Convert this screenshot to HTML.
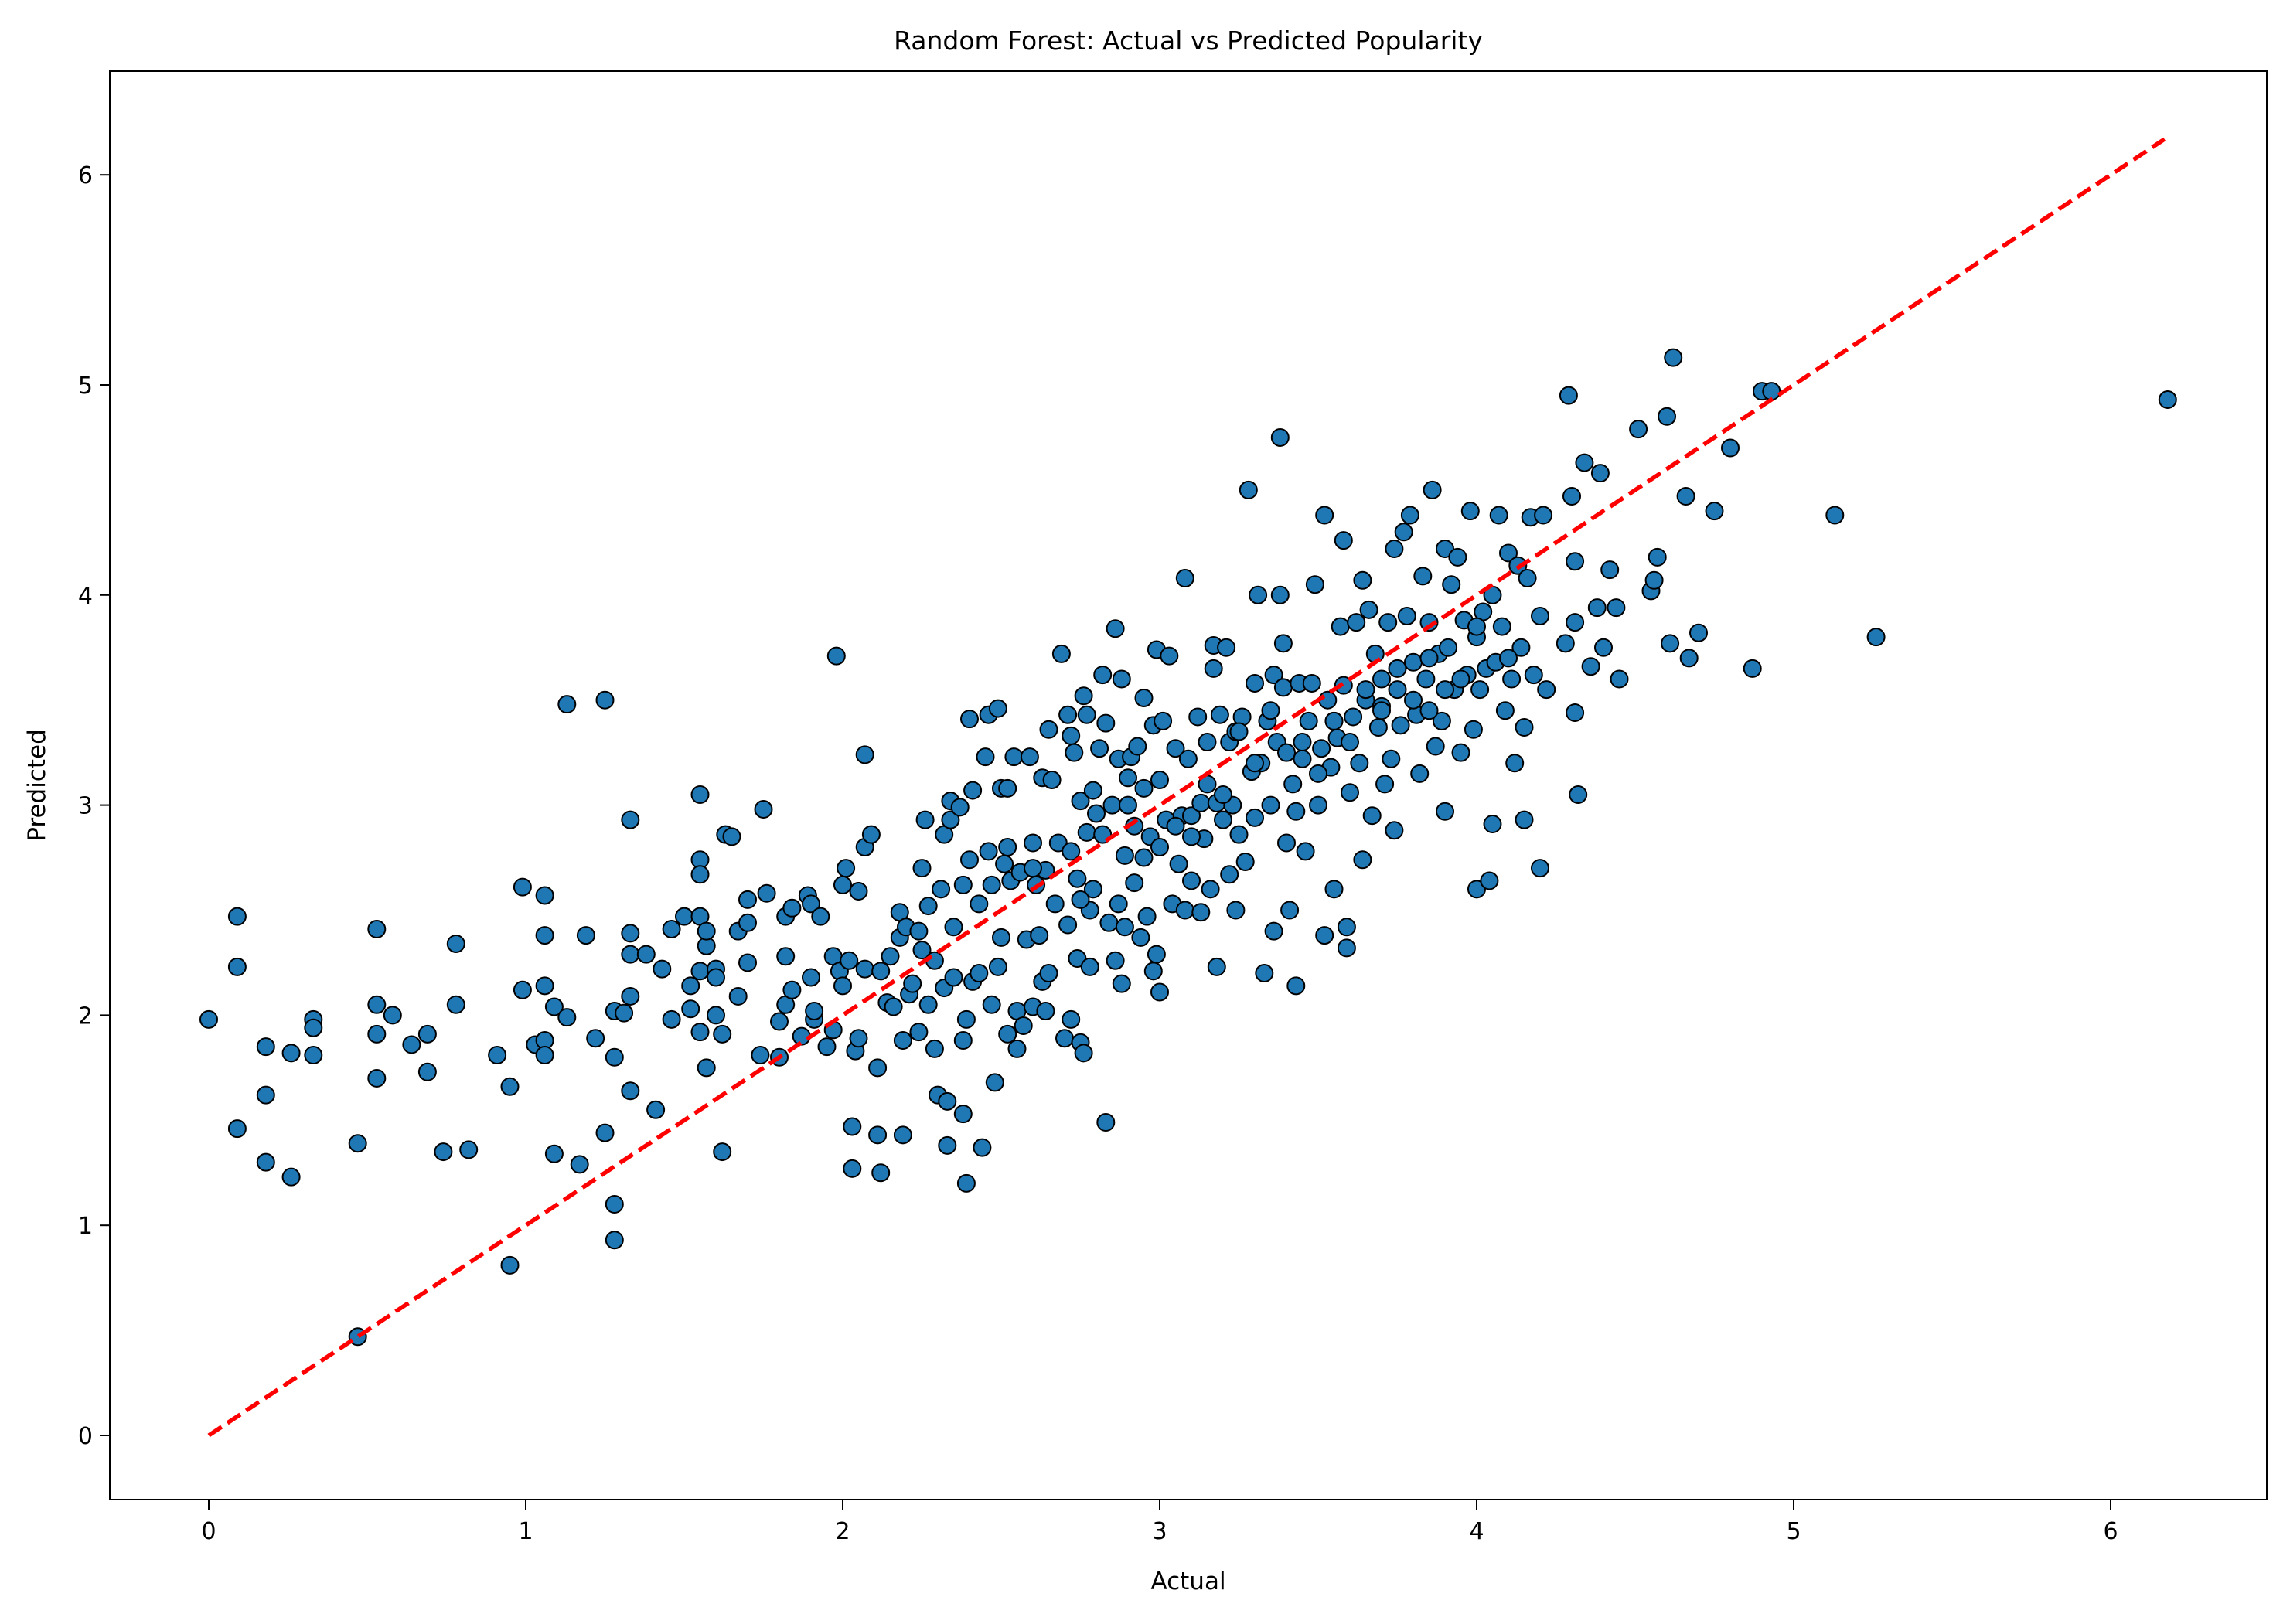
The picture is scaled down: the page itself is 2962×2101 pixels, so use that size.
<!DOCTYPE html>
<html><head><meta charset="utf-8"><style>
body{margin:0;background:#fff}
svg text{font-family:"DejaVu Sans","Liberation Sans",sans-serif;fill:#000}
</style></head><body>
<svg id="chart" width="2962" height="2096" xmlns="http://www.w3.org/2000/svg">
<rect width="2962" height="2096" fill="#fff"/>
<text x="1537" y="64" font-size="33" text-anchor="middle">Random Forest: Actual vs Predicted Popularity</text>
<g id="ticks"></g>
<g id="pts"></g>
<g id="ref"></g>
<rect x="142" y="92" width="2790" height="1848" fill="none" stroke="#000" stroke-width="2"/>
<text x="1537" y="2056" font-size="31" text-anchor="middle">Actual</text>
<text x="58" y="1016" font-size="31" text-anchor="middle" transform="rotate(-90 58 1016)">Predicted</text>
</svg>
<script>
const xTicks=[0,1,2,3,4,5,6];
const yTicks=[0,1,2,3,4,5,6];
const refLine=[0,6.17];
const actual=[0,0.09,0.09,0.09,0.18,0.18,0.18,0.26,0.26,0.33,0.33,0.33,0.47,0.47,0.53,0.53,0.53,0.53,0.58,0.64,0.69,0.69,0.74,0.78,0.78,0.82,0.91,0.95,0.95,0.99,0.99,1.03,1.06,1.06,1.06,1.06,1.06,1.09,1.09,1.13,1.13,1.17,1.19,1.22,1.25,1.25,1.28,1.28,1.28,1.28,1.31,1.33,1.33,1.33,1.33,1.33,1.38,1.41,1.43,1.46,1.46,1.5,1.52,1.52,1.55,1.55,1.55,1.55,1.55,1.55,1.57,1.57,1.57,1.6,1.6,1.6,1.62,1.62,1.63,1.65,1.67,1.67,1.7,1.7,1.7,1.74,1.75,1.76,1.8,1.8,1.82,1.82,1.82,1.84,1.84,1.87,1.89,1.9,1.9,1.91,1.91,1.93,1.95,1.97,1.97,1.98,1.99,2.0,2.0,2.01,2.02,2.03,2.03,2.04,2.05,2.05,2.07,2.07,2.07,2.09,2.11,2.11,2.12,2.12,2.14,2.15,2.16,2.18,2.18,2.19,2.19,2.2,2.21,2.22,2.24,2.24,2.25,2.25,2.26,2.27,2.27,2.29,2.29,2.3,2.31,2.32,2.32,2.33,2.33,2.34,2.34,2.35,2.35,2.37,2.38,2.38,2.38,2.39,2.39,2.4,2.4,2.41,2.41,2.43,2.43,2.44,2.45,2.46,2.46,2.47,2.47,2.48,2.49,2.49,2.5,2.5,2.51,2.52,2.52,2.52,2.53,2.54,2.55,2.55,2.56,2.57,2.58,2.59,2.6,2.6,2.61,2.62,2.63,2.63,2.64,2.64,2.65,2.65,2.66,2.67,2.68,2.69,2.7,2.71,2.71,2.72,2.72,2.72,2.73,2.74,2.74,2.75,2.75,2.76,2.76,2.77,2.77,2.78,2.78,2.79,2.79,2.8,2.81,2.82,2.82,2.83,2.83,2.84,2.85,2.86,2.86,2.87,2.87,2.88,2.88,2.89,2.89,2.9,2.91,2.92,2.92,2.93,2.94,2.95,2.95,2.96,2.97,2.98,2.98,2.99,2.99,3.0,3.0,3.0,3.01,3.02,3.03,3.04,3.05,3.06,3.07,3.08,3.08,3.09,3.1,3.1,3.12,3.13,3.13,3.14,3.15,3.16,3.17,3.17,3.18,3.18,3.19,3.2,3.21,3.22,3.22,3.23,3.24,3.24,3.25,3.26,3.27,3.28,3.29,3.3,3.3,3.31,3.32,3.33,3.34,3.35,3.36,3.36,3.37,3.38,3.38,3.39,3.39,3.4,3.41,3.42,3.43,3.43,3.44,3.45,3.46,3.47,3.48,3.49,3.5,3.51,3.52,3.52,3.53,3.54,3.55,3.56,3.57,3.58,3.58,3.59,3.59,3.6,3.61,3.62,3.63,3.64,3.64,3.65,3.66,3.67,3.68,3.69,3.7,3.71,3.72,3.73,3.74,3.74,3.75,3.76,3.77,3.78,3.79,3.8,3.81,3.82,3.83,3.84,3.85,3.86,3.87,3.88,3.89,3.9,3.9,3.91,3.92,3.93,3.94,3.95,3.96,3.97,3.98,3.99,4.0,4.0,4.01,4.02,4.03,4.04,4.05,4.05,4.06,4.07,4.08,4.09,4.1,4.11,4.12,4.13,4.14,4.15,4.15,4.16,4.17,4.18,4.2,4.2,4.21,4.22,4.28,4.29,4.3,4.31,4.31,4.31,4.32,4.34,4.36,4.38,4.39,4.4,4.42,4.44,4.45,4.51,4.55,4.56,4.57,4.6,4.61,4.62,4.66,4.67,4.7,4.75,4.8,4.87,4.9,4.93,5.13,5.26,6.18,
3.2,3.25,3.3,3.35,3.45,3.5,3.55,3.6,3.65,3.7,3.75,3.8,3.85,3.9,3.95,4.0,2.9,3.05,3.15,3.4,3.55,3.7,3.85,4.1,2.6,2.75,2.95,3.1];
const predicted=[1.98,2.47,2.23,1.46,1.85,1.62,1.3,1.82,1.23,1.98,1.94,1.81,1.39,0.47,2.41,2.05,1.91,1.7,2.0,1.86,1.91,1.73,1.35,2.34,2.05,1.36,1.81,1.66,0.81,2.61,2.12,1.86,2.57,2.38,2.14,1.88,1.81,2.04,1.34,3.48,1.99,1.29,2.38,1.89,3.5,1.44,1.1,0.93,2.02,1.8,2.01,2.93,2.39,2.29,2.09,1.64,2.29,1.55,2.22,2.41,1.98,2.47,2.03,2.14,3.05,2.74,2.67,2.47,2.21,1.92,1.75,2.33,2.4,2.22,2.0,2.18,1.91,1.35,2.86,2.85,2.09,2.4,2.55,2.44,2.25,1.81,2.98,2.58,1.8,1.97,2.28,2.47,2.05,2.12,2.51,1.9,2.57,2.53,2.18,1.98,2.02,2.47,1.85,1.93,2.28,3.71,2.21,2.14,2.62,2.7,2.26,1.47,1.27,1.83,2.59,1.89,3.24,2.8,2.22,2.86,1.75,1.43,1.25,2.21,2.06,2.28,2.04,2.49,2.37,1.88,1.43,2.42,2.1,2.15,2.4,1.92,2.7,2.31,2.93,2.52,2.05,2.26,1.84,1.62,2.6,2.86,2.13,1.59,1.38,2.93,3.02,2.42,2.18,2.99,1.53,1.88,2.62,1.2,1.98,3.41,2.74,2.16,3.07,2.53,2.2,1.37,3.23,2.78,3.43,2.05,2.62,1.68,2.23,3.46,3.08,2.37,2.72,1.91,2.8,3.08,2.64,3.23,1.84,2.02,2.68,1.95,2.36,3.23,2.04,2.82,2.62,2.38,2.16,3.13,2.02,2.69,2.2,3.36,3.12,2.53,2.82,3.72,1.89,3.43,2.43,1.98,2.78,3.33,3.25,2.65,2.27,3.02,1.87,3.52,1.82,2.87,3.43,2.5,2.23,3.07,2.6,2.96,3.27,3.62,2.86,1.49,3.39,2.44,3.0,3.84,2.26,3.22,2.53,3.6,2.15,2.42,2.76,3.13,3.23,2.63,2.9,3.28,2.37,3.51,3.08,2.47,2.85,3.38,2.21,3.74,2.29,2.8,3.12,2.11,3.4,2.93,3.71,2.53,3.27,2.72,2.95,4.08,2.5,3.22,2.64,2.95,3.42,2.49,3.01,2.84,3.3,2.6,3.76,3.65,2.23,3.01,3.43,2.93,3.75,2.67,3.3,3.0,2.5,3.35,2.86,3.42,2.73,4.5,3.16,3.58,2.94,4.0,3.2,2.2,3.4,3.0,3.62,2.4,3.3,4.75,4.0,3.77,3.56,2.82,2.5,3.1,2.14,2.97,3.58,3.22,2.78,3.4,3.58,4.05,3.0,3.27,2.38,4.38,3.5,3.18,2.6,3.32,3.85,4.26,3.57,2.42,2.32,3.06,3.42,3.87,3.2,4.07,2.74,3.5,3.93,2.95,3.72,3.37,3.47,3.1,3.87,3.22,4.22,2.88,3.55,3.38,4.3,3.9,4.38,3.68,3.43,3.15,4.09,3.6,3.87,4.5,3.28,3.72,3.4,2.97,4.22,3.75,4.05,3.55,4.18,3.25,3.88,3.62,4.4,3.36,3.8,2.6,3.55,3.92,3.65,2.64,4.0,2.91,3.68,4.38,3.85,3.45,4.2,3.6,3.2,4.14,3.75,3.37,2.93,4.08,4.37,3.62,2.7,3.9,4.38,3.55,3.77,4.95,4.47,3.87,4.16,3.44,3.05,4.63,3.66,3.94,4.58,3.75,4.12,3.94,3.6,4.79,4.02,4.07,4.18,4.85,3.77,5.13,4.47,3.7,3.82,4.4,4.7,3.65,4.97,4.97,4.38,3.8,4.93,
3.05,3.35,3.2,3.45,3.3,3.15,3.4,3.3,3.55,3.45,3.65,3.5,3.7,3.55,3.6,3.85,3.0,2.9,3.1,3.25,3.4,3.6,3.45,3.7,2.7,2.55,2.75,2.85];
const X0=142,X1=2932,Y0=92,Y1=1940;
const xs=v=>270+v*410;
const ys=v=>1857-v*271.8;
const NS='http://www.w3.org/2000/svg';
const tk=document.getElementById('ticks');
xTicks.forEach(t=>{
  const l=document.createElementNS(NS,'line');
  l.setAttribute('x1',xs(t));l.setAttribute('x2',xs(t));l.setAttribute('y1',Y1);l.setAttribute('y2',Y1+13);
  l.setAttribute('stroke','#000');l.setAttribute('stroke-width','2');
  
  
  tk.appendChild(l);
  const tx=document.createElementNS(NS,'text');
  tx.setAttribute('x',xs(t));tx.setAttribute('y',Y1+51);tx.setAttribute('font-size','30');tx.setAttribute('text-anchor','middle');
  tx.textContent=t;
  
  
  tk.appendChild(tx);
});
yTicks.forEach(t=>{
  const l=document.createElementNS(NS,'line');
  l.setAttribute('x1',X0-13);l.setAttribute('x2',X0);l.setAttribute('y1',ys(t));l.setAttribute('y2',ys(t));
  l.setAttribute('stroke','#000');l.setAttribute('stroke-width','2');
  
  
  tk.appendChild(l);
  const tx=document.createElementNS(NS,'text');
  tx.setAttribute('x',X0-22);tx.setAttribute('y',ys(t)+11);tx.setAttribute('font-size','30');tx.setAttribute('text-anchor','end');
  tx.textContent=t;
  
  
  tk.appendChild(tx);
});
const pg=document.getElementById('pts');
for(let i=0;i<actual.length;i++){
  const c=document.createElementNS(NS,'circle');
  c.setAttribute('cx',xs(actual[i]));c.setAttribute('cy',ys(predicted[i]));c.setAttribute('r','11');
  c.setAttribute('fill','#1f77b4');c.setAttribute('stroke','#000');c.setAttribute('stroke-width','2');
  
  
  pg.appendChild(c);
}
const rl=document.createElementNS(NS,'line');
rl.setAttribute('x1',xs(refLine[0]));rl.setAttribute('y1',ys(refLine[0]));
rl.setAttribute('x2',xs(refLine[1]));rl.setAttribute('y2',ys(refLine[1]));
rl.setAttribute('stroke','#ff0000');rl.setAttribute('stroke-width','5.5');rl.setAttribute('stroke-dasharray','20 9');


document.getElementById('ref').appendChild(rl);
</script>
</body></html>
